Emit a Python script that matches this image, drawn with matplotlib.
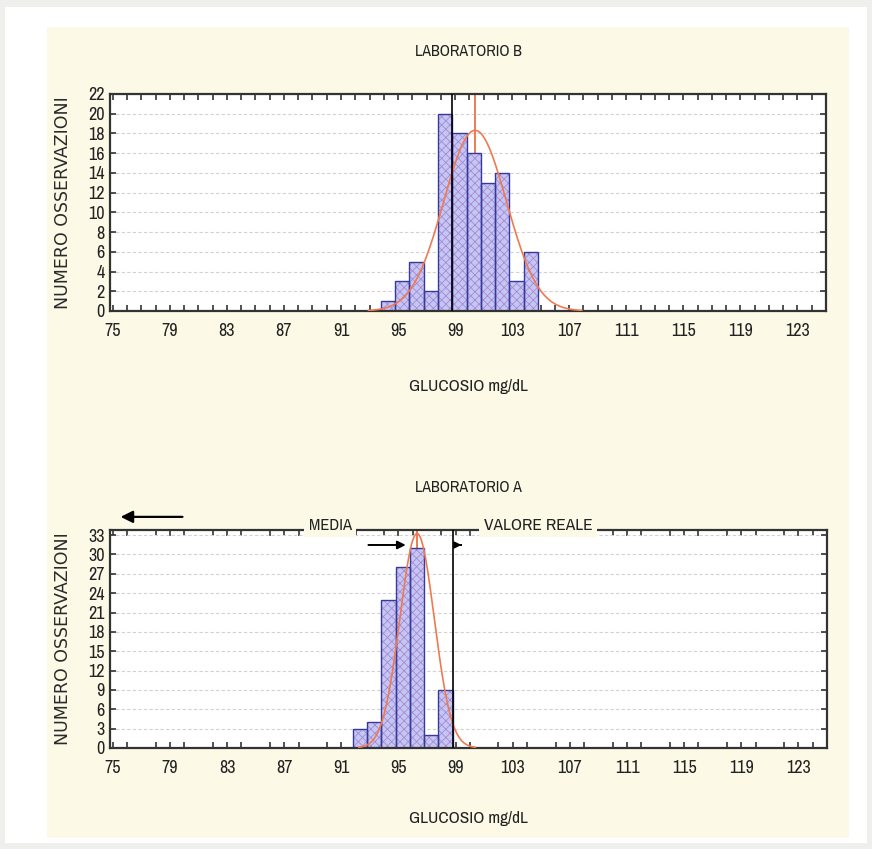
import numpy as np
import matplotlib.pyplot as plt
from matplotlib.patches import Rectangle
from matplotlib.ticker import MultipleLocator

# Laboratorio B (pannello in alto)
centri_B = [94.3, 95.3, 96.3, 97.3, 98.3, 99.3, 100.3, 101.3, 102.3, 103.3, 104.3]
conteggi_B = [1, 3, 5, 2, 20, 18, 16, 13, 14, 3, 6]
media_B = 100.4
sd_B = 2.2

# Laboratorio A (pannello in basso)
centri_A = [92.3, 93.3, 94.3, 95.3, 96.3, 97.3, 98.3]
conteggi_A = [3, 4, 23, 28, 31, 2, 9]
media_A = 96.3
sd_A = 1.2

valore_reale = 98.8

etichette_x = [75, 79, 83, 87, 91, 95, 99, 103, 107, 111, 115, 119, 123]
yticks_B = [0, 2, 4, 6, 8, 10, 12, 14, 16, 18, 20, 22]
yticks_A = [0, 3, 6, 9, 12, 15, 18, 21, 24, 27, 30, 33]

CREMA = '#fcf9e6'
ROSSO = '#ee7a52'
TESTO = '#222222'

plt.rcParams['font.family'] = ['Archivo Narrow', 'Roboto Condensed', 'DejaVu Sans']
plt.rcParams['hatch.linewidth'] = 0.6

fig = plt.figure(figsize=(8.72, 8.49), dpi=100)
fig.patch.set_facecolor('#efefed')
fig.patches.append(Rectangle((5/872, 6/849), 862/872, 836/849, transform=fig.transFigure,
                             fc='white', ec='none', zorder=-2))
fig.patches.append(Rectangle((47/872, 11/849), 802/872, 811/849, transform=fig.transFigure,
                             fc=CREMA, ec='none', zorder=-1))


def pannello(ax, centri, conteggi, media, sd, yticks, ytop, passo_minor, titolo):
    ax.set_facecolor('white')
    ax.bar(centri, conteggi, width=1.0, facecolor='#c4c6f3', edgecolor='#a88ad4',
           hatch='xxxx', linewidth=0, zorder=2)
    ax.bar(centri, conteggi, width=1.0, fill=False, edgecolor='#363a9c', linewidth=1.0, zorder=2.2)

    # curva normale attesa
    n = sum(conteggi)
    xs = np.linspace(media - 3.4 * sd, media + 3.4 * sd, 300)
    ys = n / (sd * np.sqrt(2 * np.pi)) * np.exp(-0.5 * ((xs - media) / sd) ** 2)
    ax.plot(xs, ys, color=ROSSO, lw=1.2, zorder=3)
    ax.axvline(media, color=ROSSO, lw=1.4, zorder=1.8)
    ax.axvline(valore_reale, color='black', lw=1.2, zorder=3)

    ax.set_xlim(74.8, 125.0)
    ax.set_ylim(0, ytop)
    ax.set_xticks(etichette_x)
    ax.xaxis.set_minor_locator(MultipleLocator(passo_minor))
    ax.set_yticks(yticks)
    ax.tick_params(axis='both', which='both', direction='in', top=True, right=True,
                   width=1.2, color='#333333', labelsize=13, labelcolor=TESTO)
    ax.tick_params(axis='x', which='major', length=4, pad=9)
    ax.tick_params(axis='x', which='minor', length=4)
    ax.tick_params(axis='y', length=4, pad=4)
    ax.yaxis.grid(True, color='#d2d2d2', lw=0.8, ls=(0, (3, 2)))
    ax.set_axisbelow(True)
    for s in ax.spines.values():
        s.set_linewidth(1.6)
        s.set_color('#333333')

    ax.set_title(titolo, fontsize=11.5, pad=27, color=TESTO)
    ax.text(-0.066, 0.5, 'NUMERO OSSERVAZIONI', transform=ax.transAxes, rotation=90,
            ha='center', va='center', fontsize=12.5, family='DejaVu Sans', color='#2a2a2a')


ax1 = fig.add_axes([0.1261, 0.6337, 0.8211, 0.2556])
pannello(ax1, centri_B, conteggi_B, media_B, sd_B, yticks_B, 22, 1, 'LABORATORIO B')
ax1.text(0.5, -0.312, 'GLUCOSIO mg/dL', transform=ax1.transAxes, ha='center', va='top',
         fontsize=12.5, color=TESTO)

ax2 = fig.add_axes([0.1261, 0.119, 0.8223, 0.2568])
pannello(ax2, centri_A, conteggi_A, media_A, sd_A, yticks_A, 33.8, 2, 'LABORATORIO A')
ax2.text(0.5, -0.29, 'GLUCOSIO mg/dL', transform=ax2.transAxes, ha='center', va='top',
         fontsize=12.5, color=TESTO)

# legenda sopra il riquadro inferiore
box = dict(boxstyle='square,pad=0.25', fc=CREMA, ec='none')
ax2.text(0.307, 1.0, 'MEDIA', transform=ax2.transAxes, ha='center', va='baseline',
         fontsize=12, bbox=box, zorder=5, color=TESTO)
ax2.text(0.597, 1.0, 'VALORE REALE', transform=ax2.transAxes, ha='center', va='baseline',
         fontsize=12.5, bbox=box, zorder=5, color=TESTO)
ax2.annotate('', xy=(0.011, 1.06), xytext=(0.105, 1.06), xycoords='axes fraction',
             arrowprops=dict(arrowstyle='-|>', color='black', lw=1.6, mutation_scale=18))
trans = ax2.get_xaxis_transform()
ax2.annotate('', xy=(media_A - 0.6, 0.931), xytext=(media_A - 3.6, 0.931), xycoords=trans,
             arrowprops=dict(arrowstyle='-|>', color='black', lw=1.4, mutation_scale=12))
ax2.annotate('', xy=(valore_reale + 0.8, 0.931), xytext=(valore_reale + 0.35, 0.931), xycoords=trans,
             arrowprops=dict(arrowstyle='-|>', color='black', lw=1.2, mutation_scale=10))

fig.savefig('out.png', dpi=100, facecolor=fig.get_facecolor())
